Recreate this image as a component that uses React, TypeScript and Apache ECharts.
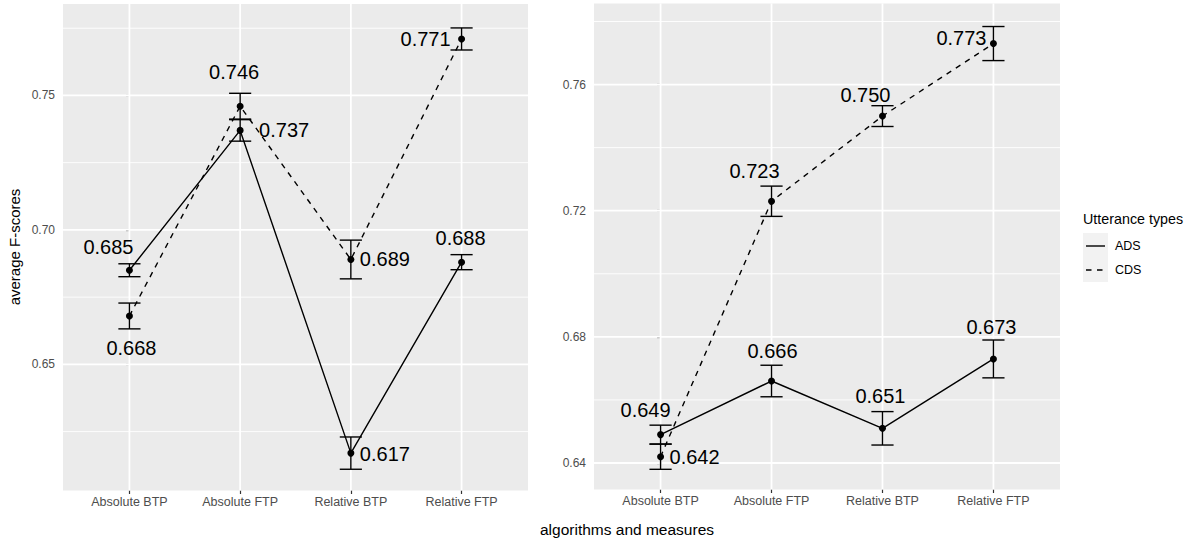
import React, { useEffect, useRef } from "react";
import * as echarts from "echarts";

const categories = ["Absolute BTP", "Absolute FTP", "Relative BTP", "Relative FTP"];

const leftAds = [0.685, 0.737, 0.617, 0.688];
const leftCds = [0.668, 0.746, 0.689, 0.771];
const rightAds = [0.649, 0.666, 0.651, 0.673];
const rightCds = [0.642, 0.723, 0.75, 0.773];

const leftAdsErr = [0.0024, 0.004, 0.006, 0.0028];
const leftCdsErr = [0.0048, 0.0048, 0.0072, 0.0041];
const rightAdsErr = [0.003, 0.005, 0.0053, 0.006];
const rightCdsErr = [0.004, 0.0048, 0.0033, 0.0054];

const leftYTicks = [0.65, 0.7, 0.75];
const leftYMinor = [0.625, 0.675, 0.725, 0.775];
const rightYTicks = [0.64, 0.68, 0.72, 0.76];
const rightYMinor = [0.66, 0.7, 0.74, 0.78];

const legendTitle = "Utterance types";
const legendNames = ["ADS", "CDS"];
const yTitle = "average F-scores";
const xTitle = "algorithms and measures";

// label placement (style only): pixel offsets of each label's centre from its point
const leftAdsLabelOffset = [[-21, -23], [44, 0], [34, 1], [-1, -24]];
const leftCdsLabelOffset = [[2, 32], [-6, -34], [34, 0], [-36, 0]];
const rightAdsLabelOffset = [[-15, -25], [1, -30], [-2, -32], [-2, -32]];
const rightCdsLabelOffset = [[34, 0], [-17, -30], [-17, -21], [-32, -6]];

const FONT = "'Liberation Sans', Arial, Helvetica, sans-serif";
const catIdx = categories.map((_, i) => i);
const X_MIN = -0.6;
const X_MAX = 3.6;

function lineSeries(name: string, values: number[], dashed: boolean, gi: number, offsets: number[][]) {
  return {
    type: "line",
    name,
    xAxisIndex: gi,
    yAxisIndex: gi,
    z: 4,
    data: values.map((v, i) => ({ value: [i, v], label: { offset: offsets[i] } })),
    symbol: "circle",
    symbolSize: 7,
    itemStyle: { color: "#000" },
    lineStyle: { color: "#000", width: 1.4, type: dashed ? [5.5, 5.5] : "solid" },
    label: {
      show: true,
      position: "inside",
      align: "center",
      verticalAlign: "middle",
      fontSize: 20,
      color: "#000",
      fontFamily: FONT,
      formatter: (p: any) => p.value[1].toFixed(3),
    },
    emphasis: { disabled: true },
    silent: true,
  };
}

function errSeries(values: number[], errs: number[], gi: number) {
  return {
    type: "custom",
    xAxisIndex: gi,
    yAxisIndex: gi,
    z: 3,
    silent: true,
    data: values.map((v, i) => [i, v - errs[i], v + errs[i]]),
    encode: { x: 0, y: [1, 2] },
    renderItem: (params: any, api: any) => {
      const x = api.value(0);
      const lo = api.coord([x, api.value(1)]);
      const hi = api.coord([x, api.value(2)]);
      const hw = api.size([0.1, 0])[0];
      const style = { stroke: "#000", lineWidth: 1.4, fill: "none" };
      return {
        type: "group",
        children: [
          { type: "line", shape: { x1: lo[0], y1: lo[1], x2: hi[0], y2: hi[1] }, style },
          { type: "line", shape: { x1: lo[0] - hw, y1: lo[1], x2: lo[0] + hw, y2: lo[1] }, style },
          { type: "line", shape: { x1: hi[0] - hw, y1: hi[1], x2: hi[0] + hw, y2: hi[1] }, style },
        ],
      };
    },
  };
}

function hGridSeries(values: number[], gi: number, width: number) {
  return {
    type: "custom",
    xAxisIndex: gi,
    yAxisIndex: gi,
    z: 1,
    silent: true,
    data: values.map((v) => [X_MIN, v]),
    encode: { x: 0, y: 1 },
    renderItem: (params: any, api: any) => {
      const cs = params.coordSys;
      const y = api.coord([X_MIN, api.value(1)])[1];
      return {
        type: "line",
        shape: { x1: cs.x, y1: y, x2: cs.x + cs.width, y2: y },
        style: { stroke: "#FFFFFF", lineWidth: width },
      };
    },
  };
}

function vGridSeries(gi: number, yBase: number) {
  return {
    type: "custom",
    xAxisIndex: gi,
    yAxisIndex: gi,
    z: 1,
    silent: true,
    data: catIdx.map((i) => [i, yBase]),
    encode: { x: 0, y: 1 },
    renderItem: (params: any, api: any) => {
      const cs = params.coordSys;
      const x = api.coord([api.value(0), yBase])[0];
      return {
        type: "line",
        shape: { x1: x, y1: cs.y, x2: x, y2: cs.y + cs.height },
        style: { stroke: "#FFFFFF", lineWidth: 1.8 },
      };
    },
  };
}

function xAxis(gi: number) {
  return {
    type: "value",
    gridIndex: gi,
    min: X_MIN,
    max: X_MAX,
    splitLine: { show: false },
    axisLine: { show: false },
    axisTick: { show: true, customValues: catIdx, length: 3.5, lineStyle: { color: "#333333", width: 1.2 } },
    axisLabel: {
      customValues: catIdx,
      formatter: (v: number) => categories[Math.round(v)] ?? "",
      fontSize: 12.5,
      color: "#4D4D4D",
      fontFamily: FONT,
      margin: 5,
    },
  };
}

function yAxis(gi: number, min: number, max: number, ticks: number[]) {
  return {
    type: "value",
    gridIndex: gi,
    min,
    max,
    splitLine: { show: false },
    axisLine: { show: false },
    axisTick: { show: true, customValues: ticks, length: 3.5, lineStyle: { color: "#333333", width: 1.2 } },
    axisLabel: {
      customValues: ticks,
      formatter: (v: number) => v.toFixed(2),
      fontSize: 12,
      color: "#4D4D4D",
      fontFamily: FONT,
      margin: 8,
    },
  };
}

export default function App() {
  const ref = useRef<HTMLDivElement>(null);
  useEffect(() => {
    if (!ref.current) return;
    document.body.style.margin = "0";
    const chart = echarts.init(ref.current, undefined, { renderer: "svg" });
    const leftMin = 0.6031, leftMax = 0.784;
    const rightMin = 0.6316, rightMax = 0.7857;
    chart.setOption({
      animation: false,
      backgroundColor: "#FFFFFF",
      textStyle: { fontFamily: FONT },
      grid: [
        { left: 63, top: 4, width: 465, height: 486.5, show: true, backgroundColor: "#EBEBEB", borderWidth: 0 },
        { left: 594, top: 3.5, width: 466, height: 486, show: true, backgroundColor: "#EBEBEB", borderWidth: 0 },
      ],
      xAxis: [xAxis(0), xAxis(1)],
      yAxis: [yAxis(0, leftMin, leftMax, leftYTicks), yAxis(1, rightMin, rightMax, rightYTicks)],
      series: [
        hGridSeries(leftYMinor, 0, 0.9),
        hGridSeries(leftYTicks, 0, 1.8),
        vGridSeries(0, leftMin),
        hGridSeries(rightYMinor, 1, 0.9),
        hGridSeries(rightYTicks, 1, 1.8),
        vGridSeries(1, rightMin),
        errSeries(leftAds, leftAdsErr, 0),
        errSeries(leftCds, leftCdsErr, 0),
        errSeries(rightAds, rightAdsErr, 1),
        errSeries(rightCds, rightCdsErr, 1),
        lineSeries("ADS", leftAds, false, 0, leftAdsLabelOffset),
        lineSeries("CDS", leftCds, true, 0, leftCdsLabelOffset),
        lineSeries("ADS", rightAds, false, 1, rightAdsLabelOffset),
        lineSeries("CDS", rightCds, true, 1, rightCdsLabelOffset),
      ],
      graphic: [
        {
          type: "text",
          x: 14,
          y: 247,
          rotation: Math.PI / 2,
          style: { text: yTitle, fontSize: 15, fill: "#000", fontFamily: FONT, align: "center", verticalAlign: "middle" },
        },
        {
          type: "text",
          x: 627,
          y: 529,
          style: { text: xTitle, fontSize: 15.5, fill: "#000", fontFamily: FONT, align: "center", verticalAlign: "middle" },
        },
        {
          type: "text",
          x: 1083,
          y: 219,
          style: { text: legendTitle, fontSize: 14.3, fill: "#000", fontFamily: FONT, align: "left", verticalAlign: "middle" },
        },
        { type: "rect", shape: { x: 1083, y: 233, width: 25, height: 49 }, style: { fill: "#F2F2F2" } },
        { type: "line", shape: { x1: 1086, y1: 246, x2: 1105, y2: 246 }, style: { stroke: "#000", lineWidth: 1.4 } },
        {
          type: "line",
          shape: { x1: 1086, y1: 270, x2: 1105, y2: 270 },
          style: { stroke: "#000", lineWidth: 1.4, lineDash: [5.5, 5.5] },
        },
        {
          type: "text",
          x: 1115,
          y: 246,
          style: { text: legendNames[0], fontSize: 12.5, fill: "#000", fontFamily: FONT, align: "left", verticalAlign: "middle" },
        },
        {
          type: "text",
          x: 1115,
          y: 270,
          style: { text: legendNames[1], fontSize: 12.5, fill: "#000", fontFamily: FONT, align: "left", verticalAlign: "middle" },
        },
      ],
    });
    return () => chart.dispose();
  }, []);
  return <div ref={ref} style={{ position: "fixed", left: 0, top: 0, width: 1199, height: 539 }} />;
}
